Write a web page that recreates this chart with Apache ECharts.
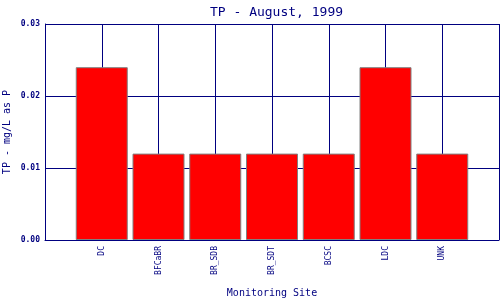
<!DOCTYPE html>
<html><head><meta charset="utf-8">
<script src="https://cdn.jsdelivr.net/npm/echarts@6/dist/echarts.min.js"></script>
<style>html,body{margin:0;padding:0;background:#fff}#c{width:500px;height:300px}</style>
</head><body><div id="c"></div>
<script>
const sites = ['DC', 'BFCaBR', 'BR_SDB', 'BR_SDT', 'BCSC', 'LDC', 'UNK'];
const tpValues = [0.024, 0.012, 0.012, 0.012, 0.012, 0.024, 0.012];
const yTicks = [0, 0.01, 0.02, 0.03];

const navy = '#000080';
const mono = 'DejaVu Sans Mono';
const axisData = [''].concat(sites, ['']);
const seriesData = [null].concat(tpValues, [null]);

const chart = echarts.init(document.getElementById('c'), null, {renderer: 'canvas'});
chart.setOption({
  animation: false,
  backgroundColor: '#fff',
  title: {
    text: 'TP - August, 1999',
    left: 205, top: 1,
    textStyle: {color: navy, fontFamily: mono, fontSize: 13, fontWeight: 'normal'}
  },
  grid: {left: 45, right: 1, top: 24, bottom: 60, containLabel: false, outerBoundsMode: 'none'},
  xAxis: {
    type: 'category',
    data: axisData,
    boundaryGap: false,
    name: 'Monitoring Site',
    nameLocation: 'middle',
    nameGap: 48,
    nameMoveOverlap: false,
    nameTextStyle: {color: navy, fontFamily: mono, fontSize: 10},
    axisLine: {lineStyle: {color: navy, width: 1}},
    axisTick: {show: false},
    axisLabel: {interval: 0, rotate: 90, color: navy, fontFamily: mono, fontSize: 8, margin: 6},
    splitLine: {show: true, interval: 0, lineStyle: {color: navy, width: 1}}
  },
  yAxis: {
    type: 'value',
    min: yTicks[0], max: yTicks[yTicks.length - 1], interval: 0.01,
    name: 'TP - mg/L as P',
    nameLocation: 'middle',
    nameGap: 33,
    nameMoveOverlap: false,
    nameTextStyle: {color: navy, fontFamily: mono, fontSize: 10},
    axisLine: {show: true, lineStyle: {color: navy, width: 1}},
    axisTick: {show: false},
    axisLabel: {color: navy, fontFamily: mono, fontSize: 8, fontWeight: 'bold', margin: 5,
      formatter: v => v.toFixed(2)},
    splitLine: {show: true, lineStyle: {color: navy, width: 1}}
  },
  series: [{
    type: 'bar',
    data: seriesData,
    barWidth: 52,
    itemStyle: {color: '#ff0000', borderColor: '#808080', borderWidth: 1}
  }]
});
</script></body></html>
